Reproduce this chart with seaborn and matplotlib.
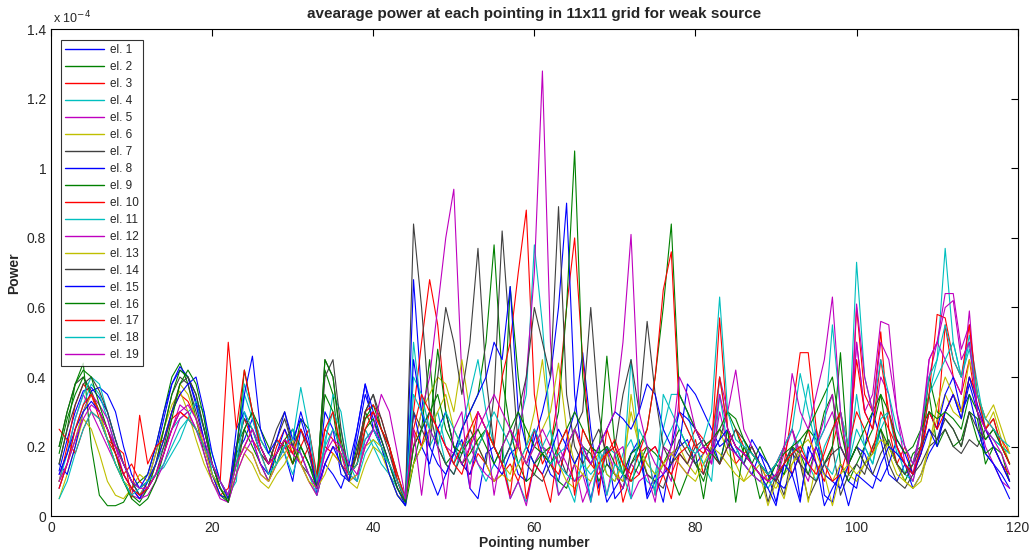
import numpy as np
import pandas as pd
import matplotlib
matplotlib.use("Agg")
import matplotlib.pyplot as plt
import seaborn as sns

# values in units of 1e-4, pointing 1..119
el1 = [.13, .22, .30, .36, .37, .34, .30, .22, .15, .10, .06,
       .10, .18, .28, .38, .42, .40, .33, .25, .15, .08, .05,
       .18, .22, .28, .20, .15, .22, .18, .10, .25, .20, .08,
       .30, .25, .12, .10, .22, .35, .28, .20, .15, .08, .04,
       .68, .35, .12, .06, .12, .18, .22, .08, .05, .18, .20,
       .15, .20, .12, .10, .25, .18, .12, .10, .22, .30, .47,
       .25, .08, .20, .05, .08, .18, .22, .06, .12, .04, .18,
       .20, .22, .15, .18, .22, .15, .25, .20, .15, .22, .18,
       .12, .04, .15, .20, .05, .18, .25, .06, .04, .15, .10,
       .08, .20, .30, .22, .12, .10, .15, .08, .12, .18, .22,
       .30, .35, .28, .38, .30, .18, .15, .12, .08]
el2 = [.15, .25, .38, .44, .20, .06, .03, .03, .04, .08, .10,
       .12, .20, .30, .40, .44, .38, .28, .18, .10, .06, .04,
       .12, .25, .20, .15, .10, .18, .22, .15, .28, .25, .10,
       .42, .35, .15, .10, .18, .30, .25, .20, .12, .06, .03,
       .15, .25, .45, .20, .15, .18, .25, .30, .35, .50, .78,
       .40, .25, .15, .10, .12, .18, .15, .10, .08, .15, .20,
       .18, .10, .15, .12, .08, .15, .20, .12, .10, .15, .20,
       .25, .20, .15, .10, .18, .22, .30, .25, .18, .15, .20,
       .15, .10, .20, .25, .18, .12, .20, .30, .35, .15, .10,
       .15, .20, .25, .35, .20, .15, .10, .15, .25, .35, .20,
       .25, .20, .22, .30, .28, .15, .20, .18, .10]
el3 = [.10, .20, .32, .38, .35, .28, .22, .18, .12, .15, .10,
       .08, .15, .22, .30, .35, .33, .28, .20, .12, .06, .08,
       .20, .28, .22, .18, .12, .20, .25, .18, .15, .20, .12,
       .25, .22, .18, .12, .15, .28, .30, .25, .20, .10, .05,
       .30, .50, .68, .55, .30, .20, .15, .12, .18, .15, .10,
       .12, .15, .10, .18, .25, .15, .20, .35, .60, .80, .45,
       .20, .06, .25, .18, .04, .12, .18, .20, .06, .12, .05,
       .18, .15, .22, .12, .20, .57, .25, .15, .18, .20, .15,
       .10, .15, .20, .12, .18, .25, .15, .10, .20, .30, .12,
       .60, .35, .30, .53, .25, .15, .20, .12, .18, .30, .25,
       .55, .40, .35, .45, .30, .25, .20, .15, .12]
el4 = [.08, .15, .25, .32, .38, .35, .28, .20, .15, .10, .08,
       .10, .15, .20, .25, .28, .30, .32, .25, .18, .10, .06,
       .10, .35, .28, .20, .15, .22, .18, .12, .20, .15, .08,
       .20, .35, .30, .15, .10, .25, .20, .15, .12, .08, .04,
       .50, .30, .20, .25, .15, .12, .20, .22, .15, .10, .15,
       .20, .05, .10, .04, .15, .20, .25, .06, .10, .04, .18,
       .15, .20, .12, .10, .18, .22, .15, .10, .08, .20, .25,
       .30, .25, .20, .15, .10, .35, .20, .18, .22, .15, .12,
       .10, .15, .12, .18, .22, .15, .10, .20, .25, .30, .15,
       .35, .20, .15, .25, .30, .20, .12, .10, .20, .35, .45,
       .77, .50, .40, .48, .35, .25, .22, .20, .18]
el5 = [.12, .18, .28, .35, .30, .25, .20, .15, .10, .06, .05,
       .08, .12, .18, .25, .32, .30, .25, .20, .12, .08, .05,
       .15, .20, .18, .12, .10, .15, .20, .25, .18, .12, .08,
       .18, .25, .20, .12, .10, .22, .25, .20, .15, .10, .04,
       .20, .30, .40, .60, .80, .94, .40, .20, .15, .12, .10,
       .15, .05, .10, .03, .15, .20, .18, .06, .10, .15, .04,
       .10, .15, .20, .12, .08, .15, .12, .18, .20, .15, .10,
       .35, .30, .25, .20, .15, .40, .30, .42, .25, .20, .15,
       .12, .10, .18, .25, .15, .10, .20, .25, .30, .20, .15,
       .50, .30, .35, .56, .55, .30, .15, .10, .20, .45, .50,
       .45, .40, .35, .59, .30, .20, .15, .10, .08]
el6 = [.05, .12, .20, .28, .25, .18, .10, .06, .05, .08, .12,
       .10, .18, .25, .32, .36, .30, .22, .15, .10, .06, .05,
       .12, .18, .15, .10, .08, .12, .15, .20, .15, .10, .06,
       .15, .20, .18, .10, .08, .15, .20, .18, .12, .06, .04,
       .20, .30, .35, .40, .38, .30, .45, .30, .20, .15, .10,
       .12, .10, .15, .20, .30, .45, .25, .15, .10, .08, .12,
       .15, .18, .12, .10, .15, .30, .20, .12, .10, .15, .18,
       .20, .15, .12, .18, .22, .25, .18, .15, .10, .12, .15,
       .10, .08, .12, .15, .20, .22, .18, .12, .10, .15, .12,
       .10, .15, .20, .25, .18, .12, .10, .08, .12, .20, .28,
       .35, .30, .28, .40, .32, .25, .30, .22, .15]
el7 = [.20, .30, .38, .40, .36, .30, .25, .20, .15, .10, .08,
       .10, .15, .25, .35, .40, .38, .30, .22, .12, .08, .05,
       .15, .25, .30, .22, .18, .25, .30, .20, .15, .12, .08,
       .45, .40, .20, .12, .15, .30, .35, .25, .18, .10, .05,
       .84, .60, .30, .20, .15, .12, .18, .25, .20, .15, .35,
       .82, .50, .20, .15, .12, .10, .15, .18, .12, .25, .30,
       .60, .30, .15, .12, .10, .15, .18, .12, .10, .08, .15,
       .22, .18, .15, .12, .20, .25, .22, .18, .15, .20, .15,
       .04, .12, .06, .18, .15, .05, .10, .15, .20, .06, .12,
       .15, .12, .20, .25, .15, .10, .08, .12, .15, .20, .22,
       .25, .20, .18, .22, .20, .25, .28, .20, .15]
el8 = [.15, .12, .20, .30, .36, .37, .35, .30, .20, .12, .08,
       .12, .20, .30, .38, .43, .40, .32, .22, .12, .06, .05,
       .25, .30, .22, .15, .12, .18, .25, .20, .30, .22, .06,
       .15, .12, .08, .15, .25, .38, .25, .20, .12, .06, .03,
       .30, .20, .15, .25, .30, .20, .15, .12, .20, .25, .15,
       .12, .18, .20, .15, .22, .30, .40, .60, .90, .35, .15,
       .05, .15, .04, .08, .12, .18, .20, .05, .10, .12, .15,
       .20, .38, .35, .30, .25, .20, .22, .18, .15, .12, .18,
       .15, .10, .08, .12, .18, .15, .20, .12, .10, .08, .15,
       .20, .18, .12, .10, .15, .22, .18, .12, .20, .30, .25,
       .35, .40, .30, .35, .25, .18, .15, .10, .05]
el9 = [.18, .28, .35, .40, .35, .30, .22, .15, .10, .06, .04,
       .08, .15, .25, .35, .42, .40, .35, .25, .15, .08, .05,
       .20, .25, .30, .25, .20, .15, .22, .25, .20, .15, .10,
       .35, .30, .15, .10, .20, .28, .32, .25, .20, .12, .05,
       .15, .20, .25, .48, .30, .20, .15, .18, .22, .25, .20,
       .15, .66, .40, .20, .15, .18, .20, .30, .60, 1.05, .40,
       .20, .18, .46, .20, .12, .10, .15, .20, .18, .15, .12,
       .06, .12, .18, .05, .20, .15, .25, .04, .20, .15, .05,
       .10, .15, .12, .20, .18, .25, .22, .15, .20, .47, .15,
       .20, .15, .18, .25, .20, .15, .12, .18, .20, .40, .30,
       .28, .25, .20, .30, .22, .18, .20, .15, .10]
el10 = [.25, .22, .18, .25, .30, .28, .22, .20, .18, .05, .29,
        .15, .20, .22, .28, .30, .28, .25, .20, .15, .10, .06,
        .15, .20, .25, .18, .15, .22, .20, .15, .20, .25, .12,
        .20, .18, .15, .12, .18, .30, .32, .28, .20, .12, .05,
        .25, .20, .30, .25, .20, .15, .12, .20, .30, .25, .20,
        .40, .50, .70, .88, .35, .20, .15, .12, .20, .25, .18,
        .15, .12, .18, .22, .15, .10, .12, .18, .20, .15, .12,
        .18, .20, .25, .22, .18, .15, .20, .25, .20, .18, .15,
        .12, .10, .15, .30, .47, .47, .25, .15, .10, .12, .20,
        .30, .25, .18, .30, .25, .20, .15, .12, .18, .30, .25,
        .30, .35, .30, .40, .35, .28, .25, .22, .18]
el11 = [.10, .18, .28, .35, .40, .38, .30, .22, .15, .10, .06,
        .08, .12, .14, .18, .22, .28, .33, .30, .12, .08, .05,
        .18, .38, .30, .22, .18, .15, .20, .25, .18, .12, .06,
        .22, .30, .25, .12, .10, .18, .22, .18, .15, .08, .04,
        .40, .35, .25, .30, .20, .15, .25, .35, .45, .30, .20,
        .15, .20, .25, .35, .78, .55, .25, .15, .12, .10, .15,
        .12, .15, .20, .18, .12, .45, .20, .15, .12, .25, .35,
        .35, .30, .20, .15, .18, .40, .25, .20, .15, .12, .10,
        .08, .12, .15, .20, .25, .38, .22, .15, .12, .20, .15,
        .25, .20, .15, .28, .30, .18, .15, .12, .20, .35, .40,
        .45, .50, .40, .52, .38, .25, .22, .20, .18]
el12 = [.08, .15, .22, .30, .35, .32, .28, .20, .12, .08, .05,
        .06, .10, .15, .22, .28, .30, .25, .18, .10, .05, .04,
        .12, .18, .22, .15, .10, .15, .20, .18, .15, .10, .06,
        .15, .20, .18, .10, .12, .20, .25, .22, .15, .08, .04,
        .20, .25, .30, .25, .20, .18, .15, .20, .25, .30, .35,
        .30, .25, .20, .40, .70, 1.28, .50, .20, .15, .10, .12,
        .04, .15, .06, .18, .20, .05, .10, .12, .04, .20, .18,
        .15, .12, .18, .20, .15, .30, .20, .18, .15, .12, .10,
        .12, .15, .20, .25, .18, .15, .20, .28, .35, .20, .15,
        .50, .30, .25, .40, .35, .20, .15, .12, .25, .40, .50,
        .64, .64, .48, .55, .30, .25, .20, .15, .10]
el13 = [.10, .15, .22, .30, .35, .30, .22, .15, .10, .08, .06,
        .10, .15, .22, .30, .38, .35, .28, .20, .12, .08, .05,
        .15, .20, .18, .12, .10, .15, .18, .22, .15, .10, .08,
        .12, .18, .15, .10, .12, .20, .22, .20, .15, .08, .05,
        .15, .20, .25, .30, .35, .25, .20, .15, .20, .25, .20,
        .15, .12, .20, .15, .20, .25, .30, .44, .25, .15, .12,
        .10, .15, .18, .12, .10, .35, .20, .15, .12, .15, .18,
        .15, .12, .10, .15, .20, .18, .15, .12, .10, .15, .12,
        .03, .10, .05, .15, .18, .04, .15, .12, .03, .12, .15,
        .12, .15, .18, .22, .20, .15, .10, .08, .10, .20, .32,
        .40, .35, .30, .45, .35, .28, .32, .25, .18]
el14 = [.15, .25, .32, .38, .40, .36, .30, .22, .15, .10, .06,
        .08, .12, .20, .30, .38, .40, .35, .25, .15, .08, .04,
        .20, .28, .25, .18, .15, .22, .28, .20, .25, .18, .08,
        .40, .45, .25, .12, .18, .30, .35, .28, .20, .10, .04,
        .30, .25, .20, .40, .60, .50, .35, .50, .77, .40, .20,
        .15, .20, .30, .40, .60, .50, .40, .89, .35, .20, .15,
        .20, .25, .18, .20, .35, .45, .30, .56, .35, .20, .15,
        .18, .15, .20, .22, .18, .15, .20, .25, .22, .18, .15,
        .12, .10, .15, .20, .15, .12, .10, .15, .18, .20, .15,
        .20, .15, .12, .18, .22, .15, .12, .15, .20, .25, .22,
        .28, .25, .20, .30, .25, .22, .25, .20, .15]
el15 = [.12, .18, .25, .30, .33, .30, .25, .18, .12, .08, .05,
        .10, .15, .22, .30, .35, .38, .40, .30, .18, .10, .05,
        .20, .35, .46, .25, .18, .22, .30, .22, .28, .20, .08,
        .15, .20, .15, .10, .25, .38, .30, .22, .15, .08, .03,
        .45, .30, .20, .15, .12, .18, .25, .30, .35, .40, .50,
        .45, .66, .30, .20, .15, .12, .18, .25, .20, .15, .20,
        .15, .20, .25, .30, .28, .25, .30, .38, .35, .25, .20,
        .30, .28, .25, .20, .18, .22, .25, .20, .18, .15, .12,
        .08, .03, .15, .12, .04, .20, .15, .03, .08, .12, .03,
        .12, .10, .08, .15, .20, .18, .15, .12, .18, .25, .20,
        .30, .35, .28, .40, .32, .25, .20, .15, .10]
el16 = [.20, .30, .38, .42, .40, .32, .25, .18, .10, .05, .03,
        .05, .10, .18, .28, .38, .42, .38, .28, .15, .08, .04,
        .18, .42, .30, .20, .15, .18, .22, .15, .20, .15, .08,
        .45, .40, .22, .12, .15, .25, .28, .22, .15, .08, .04,
        .20, .25, .30, .35, .25, .20, .18, .22, .25, .20, .15,
        .20, .25, .30, .25, .20, .18, .15, .20, .25, .30, .25,
        .20, .18, .20, .15, .12, .18, .20, .25, .40, .60, .84,
        .35, .30, .25, .20, .22, .25, .30, .28, .22, .18, .15,
        .12, .15, .18, .20, .22, .25, .30, .35, .40, .25, .15,
        .20, .25, .30, .35, .30, .22, .18, .20, .25, .30, .28,
        .30, .28, .25, .35, .30, .22, .25, .20, .15]
el17 = [.08, .15, .25, .32, .35, .30, .25, .18, .12, .08, .06,
        .08, .12, .18, .25, .30, .28, .25, .20, .15, .10, .50,
        .25, .42, .30, .20, .15, .18, .22, .18, .25, .20, .10,
        .25, .30, .20, .12, .15, .25, .30, .25, .20, .10, .05,
        .25, .35, .30, .25, .20, .15, .20, .25, .30, .25, .20,
        .15, .06, .25, .05, .15, .12, .04, .20, .25, .06, .25,
        .20, .15, .18, .20, .15, .12, .18, .25, .40, .65, .76,
        .30, .25, .20, .18, .22, .40, .25, .20, .18, .15, .12,
        .10, .12, .15, .18, .20, .15, .12, .18, .25, .30, .20,
        .45, .30, .25, .45, .30, .20, .15, .12, .20, .35, .58,
        .57, .45, .40, .55, .35, .25, .28, .20, .15]
el18 = [.05, .10, .18, .25, .30, .28, .22, .15, .10, .06, .08,
        .10, .12, .15, .20, .25, .28, .25, .20, .15, .10, .06,
        .15, .30, .25, .18, .12, .15, .20, .22, .37, .25, .10,
        .20, .25, .20, .12, .15, .22, .25, .20, .15, .10, .05,
        .35, .30, .25, .20, .30, .25, .20, .15, .20, .25, .30,
        .25, .20, .15, .20, .25, .20, .15, .18, .20, .25, .20,
        .04, .18, .06, .15, .12, .05, .25, .20, .06, .35, .30,
        .25, .20, .18, .22, .30, .63, .30, .22, .20, .18, .15,
        .12, .15, .20, .25, .41, .30, .20, .25, .55, .30, .20,
        .73, .40, .30, .45, .35, .25, .20, .15, .25, .40, .45,
        .55, .45, .40, .50, .35, .28, .25, .22, .20]
el19 = [.10, .15, .22, .28, .32, .30, .25, .20, .15, .10, .08,
        .08, .12, .18, .25, .30, .32, .28, .22, .15, .10, .06,
        .15, .20, .25, .20, .15, .18, .22, .20, .18, .12, .08,
        .18, .22, .20, .15, .12, .20, .25, .35, .30, .18, .05,
        .25, .06, .25, .20, .05, .25, .30, .08, .30, .25, .06,
        .20, .25, .20, .15, .20, .25, .20, .15, .20, .25, .20,
        .15, .20, .25, .30, .50, .81, .30, .20, .15, .12, .20,
        .40, .35, .25, .20, .18, .35, .25, .20, .18, .15, .12,
        .10, .12, .20, .41, .30, .25, .35, .45, .63, .30, .15,
        .61, .40, .30, .50, .45, .30, .20, .15, .25, .45, .50,
        .60, .62, .45, .50, .30, .25, .22, .18, .12]

series = [el1, el2, el3, el4, el5, el6, el7, el8, el9, el10,
          el11, el12, el13, el14, el15, el16, el17, el18, el19]
labels = [f"el. {i}" for i in range(1, 20)]

# old MATLAB line colour order
matlab_cycle = ["#0000ff", "#008000", "#ff0000", "#00bfbf",
                "#bf00bf", "#bfbf00", "#404040"]
colors = [matlab_cycle[i % 7] for i in range(19)]

rows = []
for lab, vals in zip(labels, series):
    for i, v in enumerate(vals):
        rows.append((lab, i + 1, v))
df = pd.DataFrame(rows, columns=["element", "pointing", "power"])

sns.set_style("white")
plt.rcParams["font.family"] = ["Liberation Sans", "DejaVu Sans"]

fig = plt.figure(figsize=(10.29, 5.52), dpi=100)
ax = fig.add_axes([0.0496, 0.065, 0.9394, 0.882])

sns.lineplot(data=df, x="pointing", y="power", hue="element",
             hue_order=labels, palette=colors, linewidth=0.8,
             ax=ax, legend=True)

ax.set_xlim(0, 120)
ax.set_ylim(0, 1.4)
ax.set_xticks(range(0, 121, 20))
ax.set_yticks(np.arange(0, 1.41, 0.2))
ax.set_yticklabels(["0", "0.2", "0.4", "0.6", "0.8", "1", "1.2", "1.4"])
ax.tick_params(direction="in", top=True, right=True, length=5,
               labelsize=10, width=0.8, color="black")
for sp in ax.spines.values():
    sp.set_color("black")
    sp.set_linewidth(0.8)

ax.set_xlabel("Pointing number", fontsize=10, fontweight="bold", labelpad=1)
ax.set_ylabel("Power", fontsize=10, fontweight="bold", labelpad=4)
ax.set_title("avearage power at each pointing in 11x11 grid for weak source",
             fontsize=11, fontweight="bold", pad=8)
ax.text(0.002, 1.006, r"x 10$^{-4}$", transform=ax.transAxes,
        fontsize=9, ha="left", va="bottom")

leg = ax.legend(loc="upper left", bbox_to_anchor=(0.004, 0.99), fontsize=8.5,
                frameon=True, fancybox=False, borderpad=0.35,
                labelspacing=0.42, handlelength=3.3, handletextpad=0.5)
leg.get_frame().set_edgecolor("black")
leg.get_frame().set_linewidth(0.8)
for h in leg.get_lines():
    h.set_linewidth(1.0)

fig.savefig("out.png", dpi=100)
